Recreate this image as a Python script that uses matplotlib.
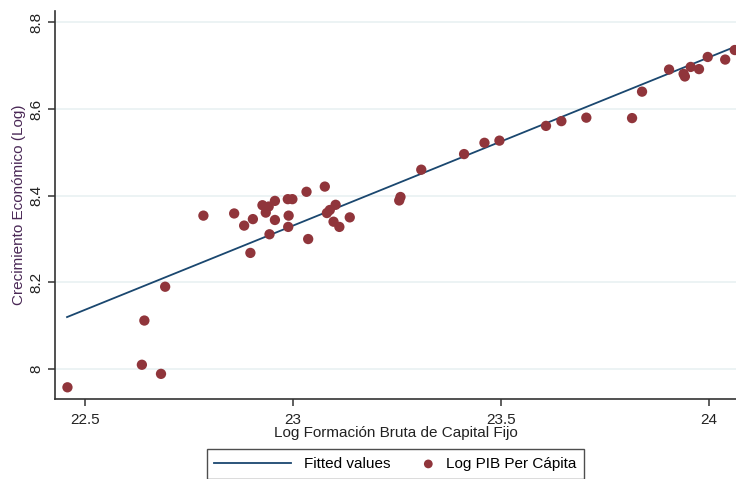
import numpy as np
import matplotlib.pyplot as plt
from matplotlib.legend_handler import HandlerPathCollection

plt.rcParams['font.family'] = ['Liberation Sans', 'DejaVu Sans']

# Log Formación Bruta de Capital Fijo (x) vs Log PIB Per Cápita (y)
log_fbkf = [22.458, 22.643, 22.637, 22.683, 22.693,
            22.785, 22.859, 22.883, 22.904, 22.898, 22.927, 22.942, 22.935,
            22.944, 22.957, 22.957, 22.988, 22.999, 22.990, 22.989, 23.033,
            23.037, 23.077, 23.082, 23.089, 23.103, 23.098, 23.112, 23.137,
            23.256, 23.259, 23.309, 23.412, 23.461, 23.497,
            23.609, 23.646, 23.706, 23.816, 23.840, 23.905, 23.940, 23.943,
            23.957, 23.977, 23.998, 24.040, 24.063]
log_pib = [7.958, 8.112, 8.010, 7.989, 8.190,
           8.354, 8.359, 8.331, 8.346, 8.268, 8.378, 8.375, 8.361,
           8.311, 8.388, 8.344, 8.392, 8.392, 8.354, 8.328, 8.409,
           8.300, 8.421, 8.360, 8.367, 8.379, 8.340, 8.328, 8.350,
           8.389, 8.397, 8.460, 8.496, 8.522, 8.527,
           8.561, 8.572, 8.580, 8.579, 8.640, 8.691, 8.681, 8.675,
           8.697, 8.692, 8.720, 8.714, 8.736]

# fitted line end points
fit_x = [22.457, 24.07]
fit_y = [8.120, 8.746]

xticks = [22.5, 23, 23.5, 24]
xtick_labels = ['22.5', '23', '23.5', '24']
yticks = [8.0, 8.2, 8.4, 8.6, 8.8]
ytick_labels = ['8', '8.2', '8.4', '8.6', '8.8']


class RightMarker(HandlerPathCollection):
    # put the legend dot at the right end of the handle box
    def get_xdata(self, legend, xdescent, ydescent, width, height, fontsize):
        x = width - xdescent - 0.3 * fontsize
        return [x], [x]


fig = plt.figure(figsize=(7.36, 4.79), dpi=100)
ax = fig.add_axes([0.0747, 0.167, 0.9253, 0.810])

for yt in yticks:
    ax.axhline(yt, color='#eaf2f3', lw=1.3, zorder=0)

ax.plot(fit_x, fit_y, color='#1a476f', lw=1.3, label='Fitted values', zorder=2)
pts = ax.scatter(log_fbkf, log_pib, s=55, color='#90353b', edgecolors='none',
                 label='Log PIB Per Cápita', zorder=3)

ax.set_xlim(22.428, 24.066)
ax.set_ylim(7.931, 8.826)
ax.set_xticks(xticks)
ax.set_xticklabels(xtick_labels)
ax.set_yticks(yticks)
ax.set_yticklabels(ytick_labels, rotation=90, va='center')

for side in ['top', 'right']:
    ax.spines[side].set_visible(False)
for side in ['left', 'bottom']:
    ax.spines[side].set_color('#333333')
    ax.spines[side].set_linewidth(1.2)
ax.tick_params(axis='both', length=5, width=1.1, color='#333333',
               labelsize=11, labelcolor='#222222')
ax.tick_params(axis='x', pad=5)
ax.tick_params(axis='y', pad=3)

ax.set_xlabel('Log Formación Bruta de Capital Fijo', fontsize=11,
              color='#222222', labelpad=-1)
ax.set_ylabel('Crecimiento Económico (Log)', fontsize=11,
              color='#4a2856', labelpad=3)

leg = fig.legend(loc='upper center', bbox_to_anchor=(0.537, 0.062), ncol=2,
                 frameon=True, fancybox=False, edgecolor='#222222',
                 fontsize=11, handlelength=5, columnspacing=-2.2,
                 borderpad=0.5, borderaxespad=0, handletextpad=0.85,
                 markerscale=0.85, scatterpoints=1,
                 handler_map={pts: RightMarker(numpoints=1)})
leg.get_frame().set_linewidth(1.0)

fig.savefig('out.png', dpi=100)
